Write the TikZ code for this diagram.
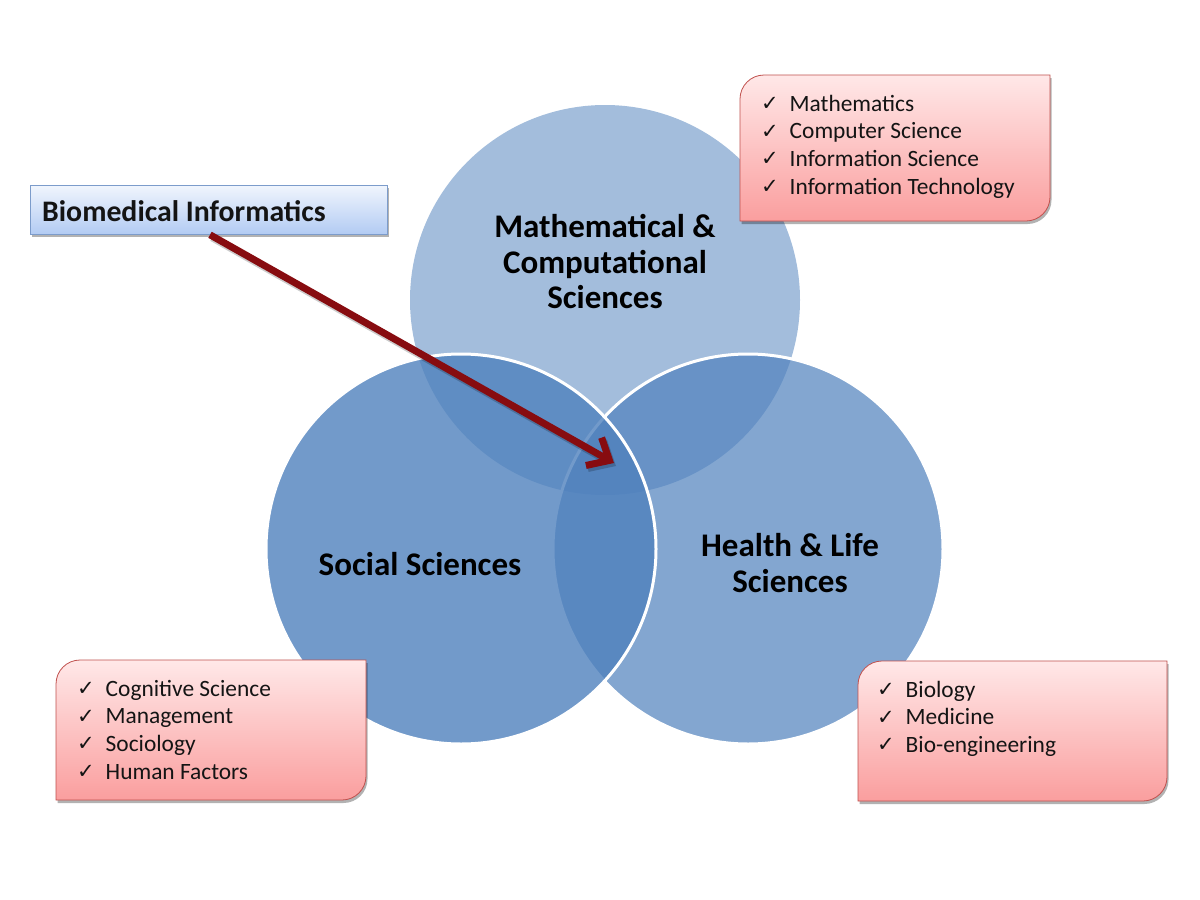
\documentclass[tikz,border=0pt]{standalone}
\usepackage{fontspec}
\setmainfont{Carlito}
\newfontfamily\dejavu{DejaVu Sans}
\usetikzlibrary{arrows.meta,shadows}
\definecolor{cbase}{HTML}{4F81BD}
\definecolor{pinktop}{RGB}{255,232,232}
\definecolor{pinkbot}{RGB}{250,158,158}
\definecolor{boxred}{RGB}{192,80,77}
\definecolor{bluetop}{RGB}{240,245,253}
\definecolor{bluebot}{RGB}{178,203,243}
\definecolor{blueedge}{RGB}{124,156,203}
\definecolor{arrowred}{RGB}{135,12,16}
\definecolor{txt}{RGB}{20,20,20}
\newcommand\chk{\makebox[28.5pt][l]{\raisebox{0.5pt}{\dejavu\fontsize{21}{21}\selectfont ✓}}}
\newcommand\rdpath[5]{(#1,#4) -- (#1,{#2+#5}) .. controls (#1,{#2+0.448*#5}) and ({#1+0.448*#5},#2) .. ({#1+#5},#2) -- (#3,#2) -- (#3,{#4-#5}) .. controls (#3,{#4-0.448*#5}) and ({#3-0.448*#5},#4) .. ({#3-#5},#4) -- cycle}
\tikzset{
  pinkbox/.style={draw=boxred, line width=0.8pt, top color=pinktop, bottom color=pinkbot,
    drop shadow={shadow xshift=1.5pt, shadow yshift=-3pt, opacity=0.3, fill=black}},
  bluebox/.style={draw=blueedge, line width=0.8pt, top color=bluetop, bottom color=bluebot,
    drop shadow={shadow xshift=1.5pt, shadow yshift=-3pt, opacity=0.3, fill=black}},
  item/.style={anchor=base west, inner sep=0pt, font=\fontsize{23.4}{28}\selectfont, text=txt},
  lbl/.style={align=center, inner sep=0pt, text=black, font=\bfseries\fontsize{33}{35.5}\selectfont},
  circ/.style={fill=cbase, draw=white, line width=3pt},
  bigarrow/.style={line width=7pt, -{Straight Barb[length=18pt,width=32pt]}}
}
\begin{document}
\begin{tikzpicture}[x=1pt,y=-1pt]
\useasboundingbox[fill=white] (0,0) rectangle (1200,900);
% circles
\fill[cbase, fill opacity=0.52] (605,300) circle[radius=195pt];
\path[circ, fill opacity=0.7] (748,549) circle[radius=195pt];
\path[circ, fill opacity=0.8] (461,549) circle[radius=195pt];
% circle labels
\node[lbl] (math) at (605,262) {Mathematical \&\\Computational\\Sciences};
\node[lbl] (soc) at (420,564) {Social Sciences};
\node[lbl] (hls) at (790,563) {Health \& Life\\Sciences};
% pink boxes
\path[pinkbox] \rdpath{740}{75}{1050}{221}{24};
\path[pinkbox] \rdpath{56}{660}{366}{800}{24};
\path[pinkbox] \rdpath{858}{661}{1167}{801}{24};
\foreach \t [count=\i from 0] in {Mathematics, Computer Science, Information Science, Information Technology}
  \node[item] (mc\i) at (761,{111+27.7*\i}) {\chk\t};
\foreach \t [count=\i from 0] in {Cognitive Science, Management, Sociology, Human Factors}
  \node[item] (ss\i) at (77,{696+27.7*\i}) {\chk\t};
\foreach \t [count=\i from 0] in {Biology, Medicine, Bio-engineering}
  \node[item] (hl\i) at (877,{697+27.7*\i}) {\chk\t};
% biomedical informatics box
\node[bluebox, anchor=north west, minimum width=357pt, minimum height=49pt, inner sep=0pt] (bmibox) at (30,185) {};
\node[anchor=base west, inner sep=0pt, font=\bfseries\fontsize{29.8}{30}\selectfont, text=txt] (bmi) at (42,221) {Biomedical Informatics};
% arrow
\coordinate (as) at ([xshift=180pt]bmibox.south west);
\coordinate (tip) at (614,463);
\draw[black, opacity=0.2, bigarrow, transform canvas={xshift=2pt,yshift=-3pt}] (as) -- (tip);
\draw[arrowred, bigarrow] (as) -- (tip);
\end{tikzpicture}
\end{document}
